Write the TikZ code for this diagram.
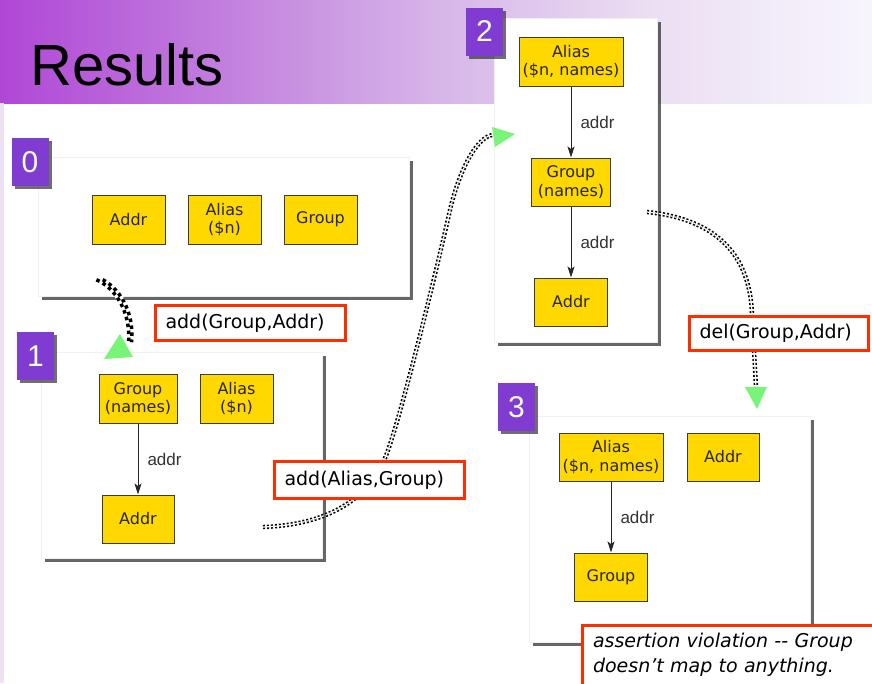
\documentclass[tikz,border=0pt]{standalone}
\usepackage{fontspec}
\setmainfont{DejaVu Sans}
\newfontfamily\arialfont{Liberation Sans}
\usetikzlibrary{arrows.meta,shadows}
\definecolor{gold}{RGB}{255,216,0}
\definecolor{nodeborder}{RGB}{60,60,50}
\definecolor{badgepurple}{RGB}{128,60,208}
\definecolor{lblred}{RGB}{255,45,0}
\definecolor{arrowgreen}{RGB}{120,245,120}
\definecolor{leftstrip}{RGB}{236,226,244}
\pgfdeclarehorizontalshading{hdrshade}{100bp}{rgb(0bp)=(0.69,0.28,0.84); rgb(25bp)=(0.69,0.28,0.84); rgb(38bp)=(0.76,0.50,0.87); rgb(50bp)=(0.84,0.71,0.91); rgb(62bp)=(0.92,0.87,0.95); rgb(75bp)=(0.97,0.96,0.99); rgb(100bp)=(0.97,0.96,0.99)}
\begin{document}
\begin{tikzpicture}[x=1pt,y=-1pt,
  panelbox/.style={fill=white, draw=black!6, line width=0.5pt,
    drop shadow={shadow xshift=4pt, shadow yshift=-4pt, fill=black!80, opacity=0.75}},
  badge/.style={fill=badgepurple, text=white, inner sep=0pt, minimum width=37pt, minimum height=48pt,
    font=\arialfont\fontsize{30}{30}\selectfont,
    drop shadow={shadow xshift=3pt, shadow yshift=-3pt, fill=black!80, opacity=0.7}},
  cls/.style={draw=nodeborder, fill=gold, line width=1pt, inner sep=0pt, align=center,
    minimum height=48pt, font=\fontsize{16}{18.5}\selectfont, text=black!85},
  rel/.style={draw=black!85, line width=1pt, -{Stealth[length=11pt,width=7pt,inset=2.5pt]}},
  rellbl/.style={anchor=west, xshift=8pt, inner sep=1pt, text=black!80, font=\arialfont\fontsize{17}{20}\selectfont},
  oplabel/.style={draw=lblred, line width=3pt, fill=white, inner xsep=10pt, inner ysep=0pt, align=left,
    font=\fontsize{19}{23}\selectfont},
  dotline/.style={line width=1.6pt, double=white, double distance=1.2pt, dash pattern=on 2pt off 2pt},
  checklane/.style={line width=3.5pt, dash pattern=on 3.5pt off 3.5pt},
  greentip/.style={fill=arrowgreen}
]
\useasboundingbox (0,0) rectangle (872,683);
\fill[white] (0,0) rectangle (872,683);
% header
\shade[shading=hdrshade] (0,0) rectangle (872,103);
\fill[leftstrip] (0,103) rectangle (4,683);
\node[anchor=base west, inner sep=0pt, font=\arialfont\fontsize{58}{58}\selectfont] (title) at (30,85) {Results};

% panels
\path[panelbox] (38,157) rectangle (409,296);
\path[panelbox] (41,352) rectangle (322,558);
\path[panelbox] (494,18) rectangle (657,342);
\path[panelbox] (529,416) rectangle (810,642);

% badges
\node[badge] (n0) at (30,162) {0};
\node[badge] (n1) at (35.5,356) {1};
\node[badge] (n2) at (484.5,31.5) {2};
\node[badge] (n3) at (516.5,407) {3};

% panel 0
\node[cls, minimum width=73pt, minimum height=49pt] (a0) at (128.5,219.5) {Addr};
\node[cls, minimum width=73pt, minimum height=49pt] (b0) at (224.5,219.5) {Alias\\(\$n)};
\node[cls, minimum width=73pt, minimum height=49pt] (c0) at (320.5,219.5) {Group};

% panel 1
\node[cls, minimum width=78pt, minimum height=49pt] (g1) at (138,398.5) {Group\\(names)};
\node[cls, minimum width=73pt, minimum height=49pt] (b1) at (236.5,398.5) {Alias\\(\$n)};
\node[cls, minimum width=72pt] (a1) at (138,519) {Addr};
\draw[rel] (g1) -- node[rellbl]{addr} (a1);

% panel 2
\node[cls, minimum width=104pt, minimum height=49pt] (b2) at (571,61.5) {Alias\\(\$n, names)};
\node[cls, minimum width=79pt] (g2) at (571,182) {Group\\(names)};
\node[cls, minimum width=73pt] (a2) at (571,302) {Addr};
\draw[rel] (b2) -- node[rellbl]{addr} (g2);
\draw[rel] (g2) -- node[rellbl]{addr} (a2);

% panel 3
\node[cls, minimum width=104pt] (b3) at (611,457) {Alias\\(\$n, names)};
\node[cls, minimum width=72pt] (a3) at (723,457) {Addr};
\node[cls, minimum width=73pt] (g3) at (611,577) {Group};
\draw[rel] (b3) -- node[rellbl]{addr} (g3);

% checkered connector 0 -> 1
\coordinate (ck0) at (98,279);
\coordinate (ck1) at (130,343);
\draw[white, line width=7pt] (ck0) .. controls (117,287) and (133,312) .. (ck1);
\draw[checklane, transform canvas={xshift=-1.56pt, yshift=-0.78pt}] (ck0) .. controls (117,287) and (133,312) .. (ck1);
\draw[checklane, dash phase=3.5pt, transform canvas={xshift=1.56pt, yshift=0.78pt}] (ck0) .. controls (117,287) and (133,312) .. (ck1);
\fill[greentip] (120,334) -- (133,357) -- (104,359) -- cycle;

% dotted connector 1 -> 2
\coordinate (d1s) at (263,527);
\coordinate (d1e) at (492,135);
\draw[dotline] (d1s) .. controls (320,525) and (365,505) .. (385,458)
  .. controls (400,423) and (440,255) .. (450,210)
  .. controls (458,175) and (475,138) .. (d1e);
\fill[greentip] (492,127) -- (515,134) -- (495,147) -- cycle;

% dotted connector 2 -> 3
\coordinate (d2s) at (647,212);
\coordinate (d2e) at (756,387);
\draw[dotline] (d2s) .. controls (705,218) and (750,245) .. (752,315) -- (d2e);
\fill[greentip] (745,387) -- (767,387) -- (757,409) -- cycle;

% operation labels
\node[oplabel, minimum width=190pt, text width=170pt, minimum height=35pt] (l1) at (250.5,323) {add(Group,Addr)};
\node[oplabel, minimum width=190pt, text width=170pt, minimum height=37pt] (l2) at (369.5,480) {add(Alias,Group)};
\node[oplabel, minimum width=179pt, text width=159pt, minimum height=34pt] (l3) at (779,333.5) {del(Group,Addr)};
\node[oplabel, anchor=north west, inner xsep=11pt, inner ysep=8pt, text width=300pt, text depth=30pt,
  font=\itshape\fontsize{19}{25}\selectfont] (l4) at (580.5,623.5) {assertion violation -{}- Group\\doesn’t map to anything.};
\end{tikzpicture}
\end{document}
